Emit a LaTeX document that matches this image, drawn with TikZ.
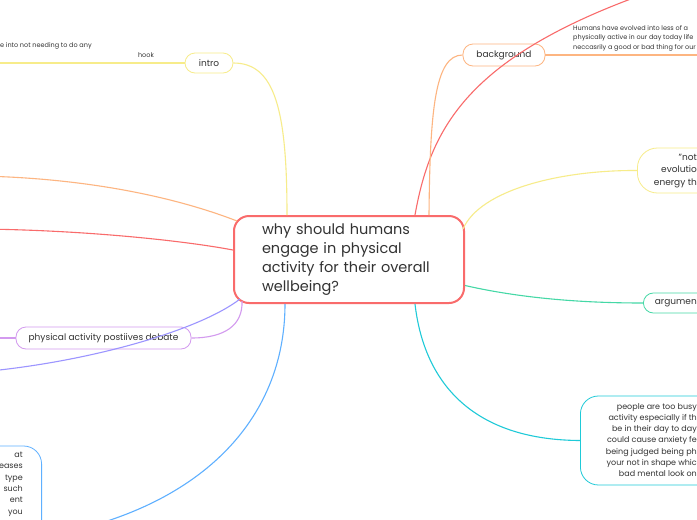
\documentclass[tikz,border=0pt]{standalone}
\usepackage{fontspec}
\setmainfont{Poppins}
\usetikzlibrary{positioning,calc}

\definecolor{astrot}{HTML}{F96B6B}
\definecolor{astorange}{HTML}{FDB581}
\definecolor{astgelb}{HTML}{F7EC8A}
\definecolor{astlila}{HTML}{D39AEF}
\definecolor{astviolett}{HTML}{9C95FF}
\definecolor{astblau}{HTML}{5FB0FF}
\definecolor{astgruen}{HTML}{45D8A6}
\definecolor{asttuerkis}{HTML}{1FCAD8}
\definecolor{textgrau}{HTML}{333333}

\begin{document}
\begin{tikzpicture}[x=1pt,y=-1pt,
    ast/.style={line width=1.1pt},
    knoten/.style={draw, fill=white, rounded corners=10pt, line width=0.8pt,
        inner sep=0pt, text=textgrau, font=\fontsize{9}{11}\selectfont},
    klein/.style={text=textgrau, font=\fontsize{6.5}{9.5}\selectfont, inner sep=0pt},
    mittel/.style={text=textgrau, font=\fontsize{8.5}{11.3}\selectfont, inner sep=0pt, align=right}]
    % Rahmen
    \useasboundingbox (0,0) rectangle (697,520);
    \clip (0,0) rectangle (697,520);
    \fill[white] (0,0) rectangle (697,520);

    % Zentrum
    \node[draw=astrot, line width=2pt, rounded corners=15pt, fill=white,
        minimum width=230, minimum height=87, text width=174, inner xsep=28,
        align=left, text=textgrau, font=\fontsize{14.5}{19}\selectfont]
        (zentrum) at (349,259.5)
        {why should humans\\engage in physical\\activity for their overall\\wellbeing?};

    % Knoten
    \node[knoten, draw=astgelb, minimum width=48, minimum height=20] (intro) at (209,63) {intro};
    \node[knoten, draw=astorange, minimum width=82, minimum height=22] (hintergrund) at (504,55) {background};
    \node[knoten, draw=astlila, minimum width=175, minimum height=22] (debatte) at (103.5,338) {physical activity postiives debate};
    \node[knoten, draw=astgelb, rounded corners=20pt, minimum width=140, minimum height=45, anchor=west] (zitat) at (637,170.5) {};
    \node[knoten, draw=astgruen, minimum width=120, minimum height=20, anchor=west] (argument) at (643,303) {};
    \node[knoten, draw=asttuerkis, rounded corners=18pt, minimum width=150, minimum height=89, anchor=west] (probleme) at (580,440.5) {};
    \node[knoten, draw=astblau, rounded corners=18pt, minimum width=140, minimum height=182, anchor=east] (wirkung) at (42,537) {};

    % Texte
    \node[klein] (hook) at (146,55) {hook};
    \node[klein, anchor=west] (hooktext) at (0,46) {e into not needing to do any};
    \node[klein, anchor=north west, align=left] (hintergrundtext) at (573,25)
        {Humans have evolved into less of a\\physically active in our day today life\\neccasrily a good or bad thing for our};
    \node[text=textgrau, font=\fontsize{9}{12.5}\selectfont, inner sep=0pt, align=right, anchor=east] (zitattext) at (697,171) {"not\\evolutio\\energy th};
    \node[text=textgrau, font=\fontsize{9}{11}\selectfont, inner sep=0pt, anchor=east] (argumenttext) at (697,303) {argumen};
    \node[mittel, font=\fontsize{8}{11.3}\selectfont, anchor=east] (problemetext) at (697,440)
        {people are too busy\\activity especially if th\\be in their day to day\\could cause anxiety fe\\being judged being ph\\your not in shape whic\\bad mental look on};
    \node[mittel, font=\fontsize{8}{11.3}\selectfont, anchor=north east] (wirkungtext) at (23,452)
        {at\\eases\\type\\such\\ent\hspace{7pt}\\you\hspace{4pt}};

    % freie Enden
    \coordinate (obenrechts) at (712,-28);
    \coordinate (linksorange) at (-20,176);
    \coordinate (linksrot) at (-20,229);
    \coordinate (linksviolett) at (-20,372);
    \coordinate (introlinks) at (-10,63);
    \coordinate (debattelinks) at (-10,338);
    \coordinate (hintergrundrechts) at (710,55);

    % Aeste
    \draw[ast, astrot] ($(zentrum.north)+(66,0)$) .. controls (432,120) and (474,42) .. (obenrechts);
    \draw[ast, astorange] ($(zentrum.north)+(80,0)$) .. controls (430,110) and (435,55) .. (hintergrund.west);
    \draw[ast, astgelb] ($(zentrum.north)+(-62,0)$) .. controls (287,110) and (275,63) .. (intro.east);
    \draw[ast, astorange] ($(zentrum.north west)+(4,6)$) .. controls (170,195) and (80,178) .. (linksorange);
    \draw[ast, astrot] ($(zentrum.west)+(0,-9.5)$) .. controls (180,240) and (80,230) .. (linksrot);
    \draw[ast, astlila] ($(zentrum.south west)+(9,-3)$) .. controls (243,325) and (225,338) .. (debatte.east);
    \draw[ast, astviolett] ($(zentrum.south west)+(7,-5)$) .. controls (200,330) and (90,362) .. (linksviolett);
    \draw[ast, astblau] ($(zentrum.south)+(-64,0)$) .. controls (285,420) and (200,510) .. (wirkung.east);
    \draw[ast, astgelb] ($(zentrum.north east)+(-2,14)$) .. controls (480,190) and (560,170) .. (zitat.west);
    \draw[ast, astgruen] ($(zentrum.east)+(0,26)$) .. controls (520,298) and (580,303) .. (argument.west);
    \draw[ast, asttuerkis] ($(zentrum.south)+(66,0)$) .. controls (425,390) and (480,440) .. (probleme.west);

    % Nebenlinien
    \draw[ast, astgelb] (intro.west) -- (introlinks);
    \draw[ast, astlila] (debatte.west) -- (debattelinks);
    \draw[ast, astorange] (hintergrund.east) -- (hintergrundrechts);
\end{tikzpicture}
\end{document}
